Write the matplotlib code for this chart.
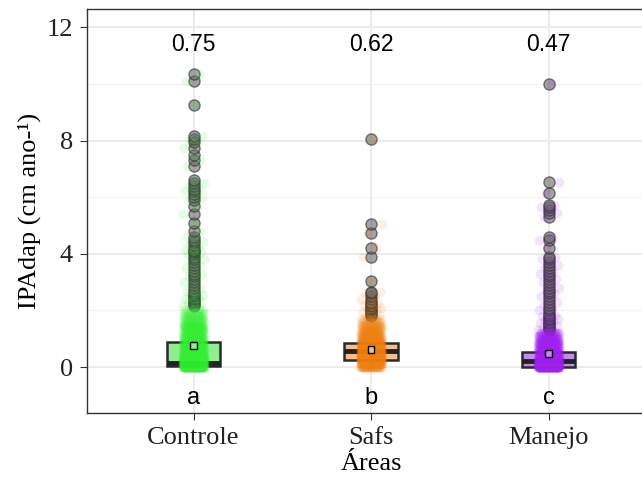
import numpy as np
import matplotlib.pyplot as plt
from matplotlib.ticker import MultipleLocator

# categories and summary numbers
areas = ['Controle', 'Safs', 'Manejo']
means = [0.75, 0.62, 0.47]
letters = ['a', 'b', 'c']
q1 = [0.03, 0.25, 0.0]
medians = [0.14, 0.57, 0.2]
q3 = [0.88, 0.85, 0.53]
colors = ['#33EE33', '#F08010', '#A020F0']
box_fills = ['#90EE90', '#F2C08C', '#C58AF0']

# bulk of the observations (value, count) per area
controle_vals = [0.0, 0.1, 0.2, 0.3, 0.4, 0.5, 0.6, 0.7, 0.8, 0.9, 1.0,
                 1.1, 1.2, 1.3, 1.4, 1.5, 1.6, 1.7, 1.8, 1.9, 2.0]
controle_cnt = [120, 110, 90, 75, 60, 50, 44, 40, 36, 32, 30,
                28, 26, 24, 22, 20, 18, 16, 14, 12, 10]
safs_vals = [0.0, 0.1, 0.2, 0.3, 0.4, 0.5, 0.6, 0.7, 0.8, 0.9, 1.0,
             1.1, 1.2, 1.3, 1.4, 1.5, 1.6, 1.7]
safs_cnt = [40, 50, 70, 80, 85, 85, 75, 60, 48, 40, 34,
            28, 24, 20, 17, 14, 11, 9]
manejo_vals = [0.0, 0.1, 0.2, 0.3, 0.4, 0.5, 0.6, 0.7, 0.8, 0.9, 1.0,
               1.1, 1.2]
manejo_cnt = [150, 120, 90, 70, 55, 45, 40, 36, 32, 28, 25, 22, 20]

# outliers (drawn grey by the boxplot)
controle_out = [2.15, 2.2, 2.25, 2.3, 2.35, 2.4, 2.45, 2.5, 2.55, 2.6, 2.7,
                2.8, 2.9, 3.0, 3.1, 3.2, 3.3, 3.4, 3.5, 3.6, 3.7, 3.8, 3.9,
                4.0, 4.05, 4.1, 4.15, 4.2, 4.3, 4.4, 4.5, 4.6, 4.8, 5.1, 5.4,
                5.7, 5.9, 6.0, 6.1, 6.2, 6.3, 6.4, 6.5, 6.6, 7.1, 7.3, 7.5,
                7.75, 7.95, 8.05, 8.15, 9.25, 10.1, 10.35]
safs_out = [1.8, 1.85, 1.9, 1.95, 2.0, 2.05, 2.1, 2.15, 2.2, 2.25, 2.3, 2.4,
            2.5, 2.6, 2.66, 3.04, 3.87, 4.19, 4.74, 5.05, 8.07]
manejo_out = [1.3, 1.35, 1.4, 1.45, 1.5, 1.55, 1.6, 1.65, 1.7, 1.75, 1.8,
              1.85, 1.9, 2.0, 2.1, 2.2, 2.3, 2.4, 2.5, 2.6, 2.7, 2.8, 2.9,
              3.0, 3.1, 3.2, 3.3, 3.4, 3.5, 3.6, 3.7, 3.8, 3.9, 4.2, 4.5,
              4.6, 5.3, 5.45, 5.55, 5.65, 5.72, 6.13, 6.54, 9.99]

groups = [
    (controle_vals, controle_cnt, controle_out),
    (safs_vals, safs_cnt, safs_out),
    (manejo_vals, manejo_cnt, manejo_out),
]

serif = 'Liberation Serif'
sans = 'Liberation Sans'

fig = plt.figure(figsize=(6.42, 4.78), dpi=100)
ax = fig.add_axes([0.1355, 0.136, 0.885, 0.845])

pos = [1, 2, 3]
stats = []
for i, (vals, cnt, out) in enumerate(groups):
    stats.append(dict(med=medians[i], q1=q1[i], q3=q3[i], whislo=0.0,
                      whishi=q3[i], fliers=out))

bp = ax.bxp(stats, positions=pos, widths=0.3, patch_artist=True,
            showcaps=False, zorder=2,
            boxprops=dict(edgecolor='#2a2a2a', linewidth=1.8),
            medianprops=dict(color='#222222', linewidth=3.5),
            whiskerprops=dict(color='#333333', linewidth=1),
            flierprops=dict(marker='o', markerfacecolor='#666666',
                            markeredgecolor='#2a2a2a', markersize=8,
                            alpha=0.6))
for patch, fc in zip(bp['boxes'], box_fills):
    patch.set_facecolor(fc)

# jittered raw points on top of the boxes
for i, (vals, cnt, out) in enumerate(groups):
    y = np.concatenate([np.repeat(vals, cnt), out])
    k = np.arange(len(y))
    off = ((k * 0.618034) % 1 - 0.5) * 2 * 0.06
    ax.scatter(pos[i] + off, y, s=50, color=colors[i], alpha=0.12,
               linewidths=0, zorder=3)

# mean markers
ax.scatter(pos, means, marker='s', s=24, facecolor=box_fills,
           edgecolor='black', linewidths=1.0, zorder=5)

for i in range(3):
    ax.text(pos[i], 11.4, f'{means[i]:.2f}', ha='center', va='center',
            fontsize=16.5, family=sans, color='black')
    ax.text(pos[i], -1.1, letters[i], ha='center', va='center',
            fontsize=17, family=sans, color='black')

ax.set_xlim(0.4, 3.6)
ax.set_ylim(-1.62, 12.64)
ax.set_xticks(pos)
ax.set_xticklabels(areas, family=serif, fontsize=19)
ax.yaxis.set_major_locator(MultipleLocator(4))
ax.yaxis.set_minor_locator(MultipleLocator(2))
for lbl in ax.get_yticklabels():
    lbl.set_family(serif)
    lbl.set_fontsize(19)
ax.tick_params(axis='both', which='major', length=5, color='#333333',
               labelcolor='#222222', pad=5)
ax.tick_params(axis='y', which='minor', length=0)

ax.grid(True, which='major', color='#ebebeb', linewidth=1.4, zorder=0)
ax.grid(True, which='minor', axis='y', color='#f2f2f2', linewidth=0.8,
        zorder=0)
ax.set_axisbelow(True)

for side in ['left', 'bottom', 'top', 'right']:
    ax.spines[side].set_color('#333333')
    ax.spines[side].set_linewidth(1.0)

ax.set_ylabel('IPAdap (cm ano-¹)', family=serif, fontsize=19, labelpad=4)
ax.set_xlabel('Áreas', family=serif, fontsize=19, labelpad=3)

fig.savefig('out.png', dpi=100)
